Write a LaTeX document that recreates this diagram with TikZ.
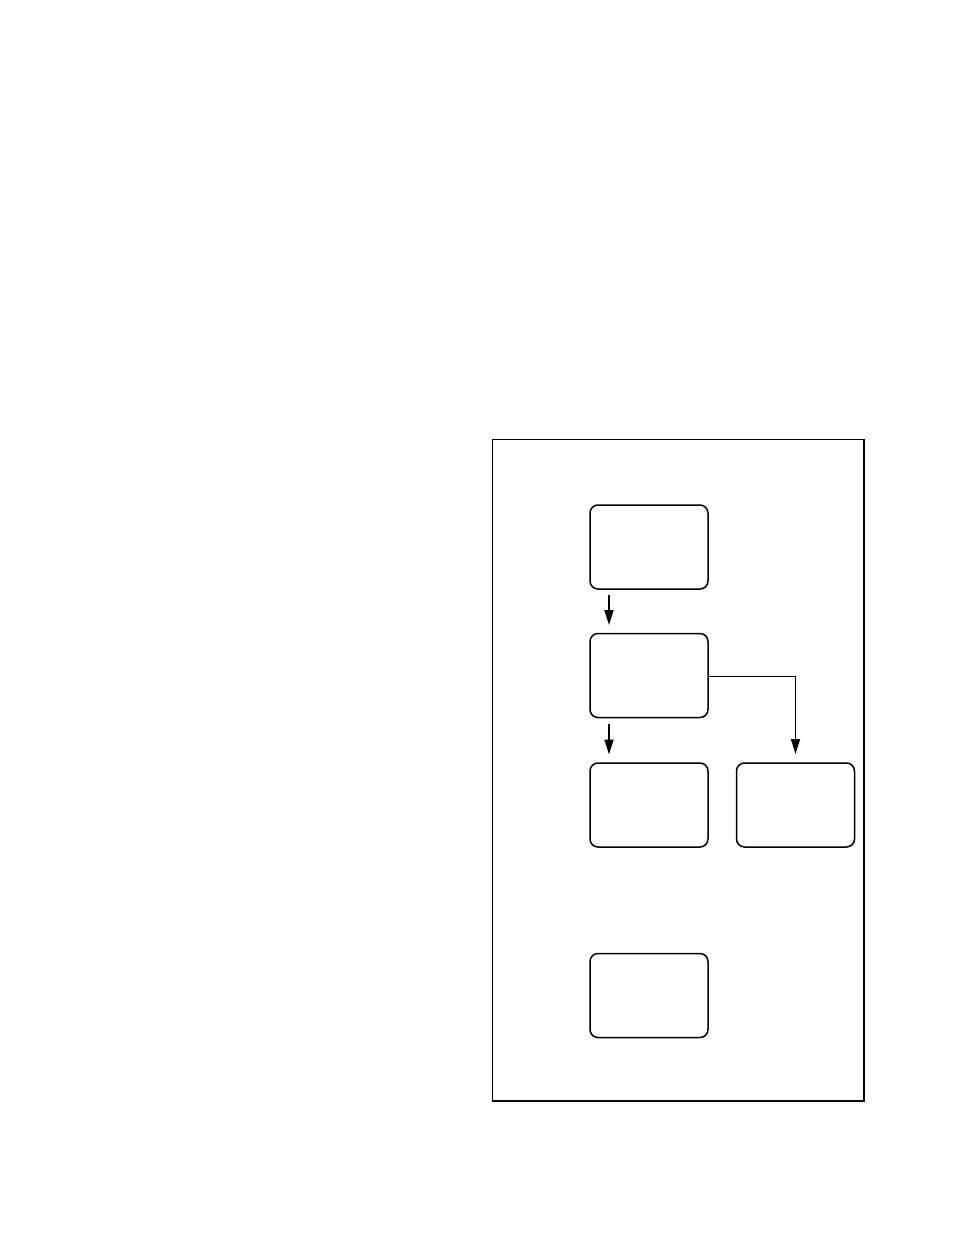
\documentclass[tikz,border=0pt]{standalone}
\usetikzlibrary{arrows.meta}
\begin{document}
\begin{tikzpicture}[x=1pt,y=-1pt,
  box/.style={draw,line width=1.5pt,rounded corners=8pt,minimum width=118pt,minimum height=84pt,inner sep=0pt,outer sep=0pt},
  framebox/.style={draw,line width=1pt,minimum width=372pt,minimum height=662pt,inner sep=0pt,outer sep=0pt},
  arr/.style={line width=1.8pt,-{Triangle[length=15pt,width=9pt]}}]
\useasboundingbox (0,0) rectangle (954,1235);
\node[framebox] (frame) at (678,770) {};
\draw[line width=2pt] ([yshift=0.5pt]frame.north east) -- (frame.south east) -- (frame.south west);
\node[box] (b1) at (649,547) {};
\node[box] (b2) at (649,675.5) {};
\node[box] (b3) at (649,805) {};
\node[box] (b4) at (795.5,805) {};
\node[box] (b5) at (649,995.5) {};
\draw[arr] ([xshift=-40pt,yshift=-6pt]b1.south) -- ([xshift=-40pt,yshift=8.5pt]b2.north);
\draw[arr] ([xshift=-40pt,yshift=-6pt]b2.south) -- ([xshift=-40pt,yshift=8.5pt]b3.north);
\coordinate (bend) at ([yshift=-1pt]b2.east -| b4.north);
\draw[line width=1.2pt] ([yshift=-1pt]b2.east) -- ([xshift=0.9pt]bend);
\draw[arr] ([yshift=0.6pt]bend) -- ([yshift=9pt]b4.north);
\end{tikzpicture}
\end{document}
